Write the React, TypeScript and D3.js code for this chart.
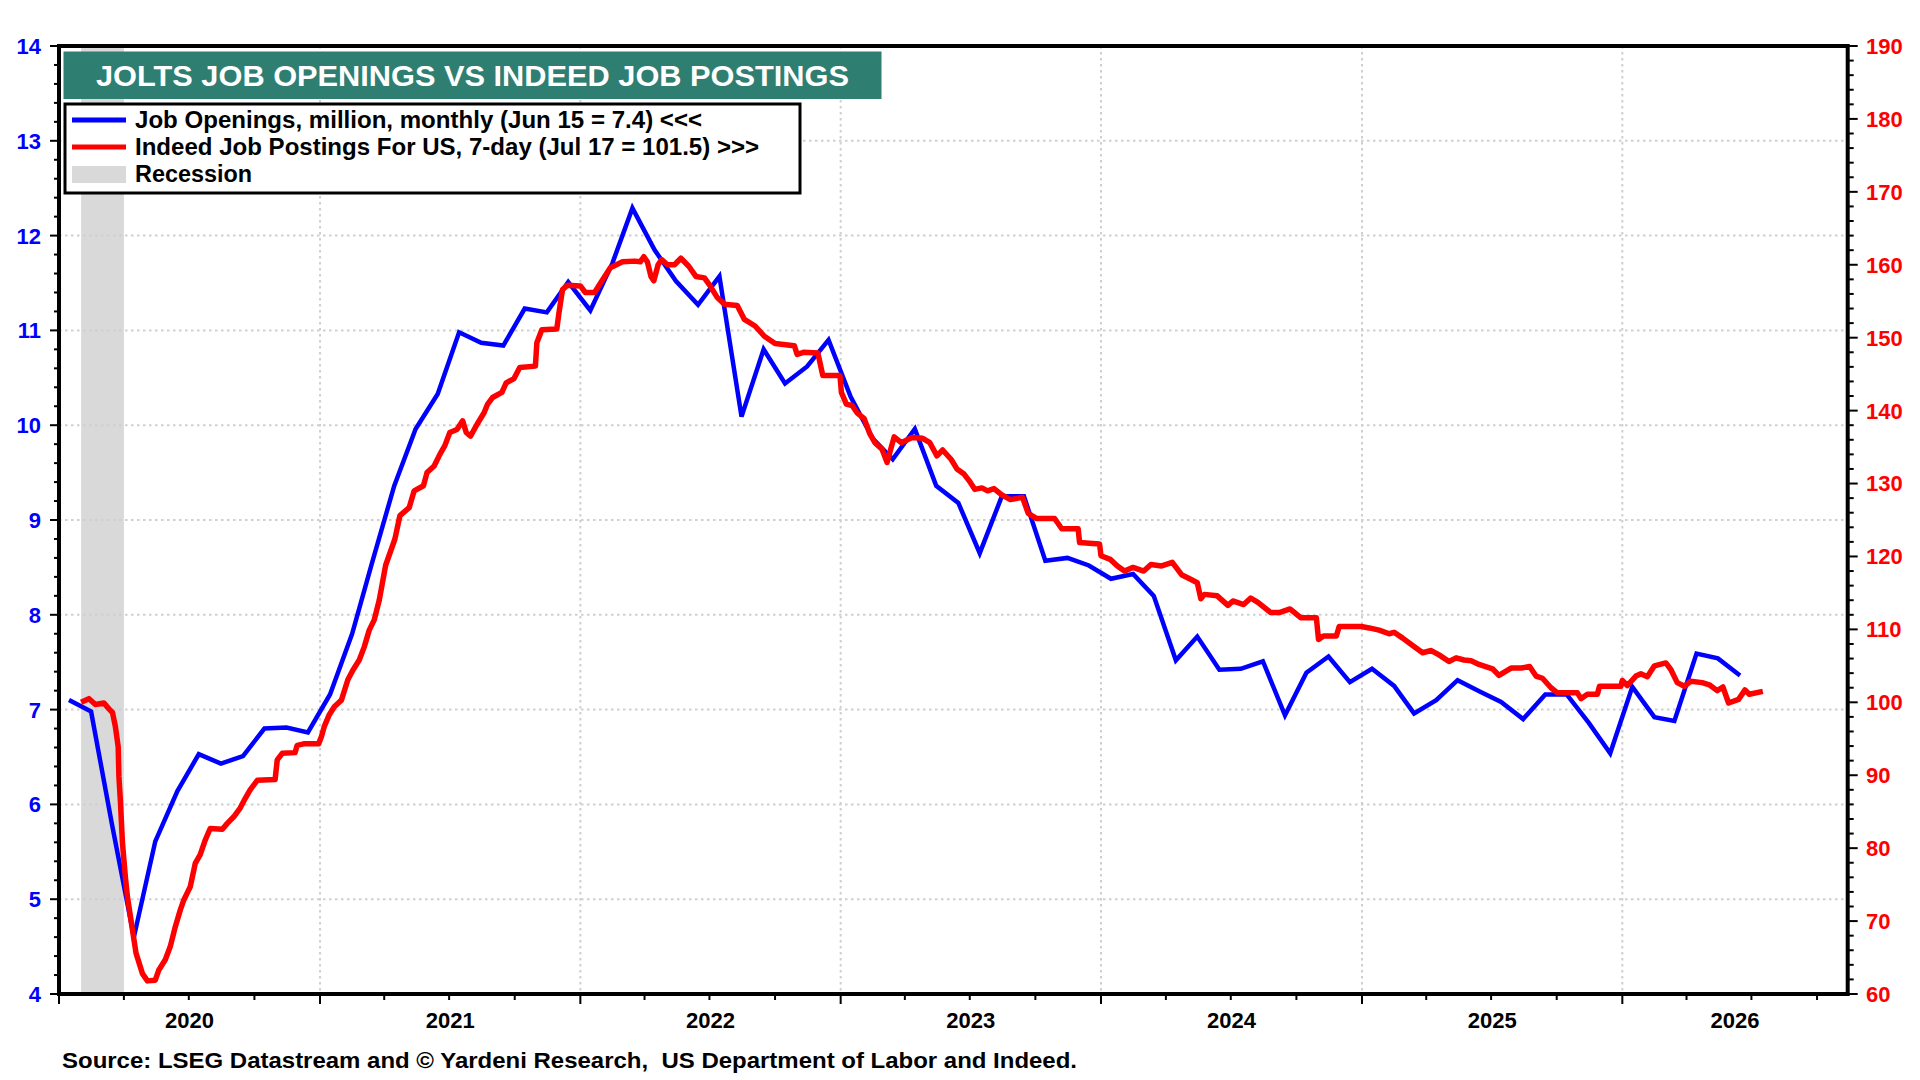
import React from 'react';
import * as d3 from 'd3';

// ---------------- DATA ----------------
// JOLTS job openings (million), monthly, dated the 15th, starting Jan 2020
const joltsFirstMonth = '2020-01-15';
const joltsValues: number[] = [
  7.10, 6.98, 5.80, 4.60, 5.61, 6.14, 6.53, 6.43, 6.51, 6.80, 6.81, 6.76,
  7.16, 7.80, 8.55, 9.36, 9.96, 10.33, 10.98, 10.87, 10.84, 11.23, 11.19, 11.51,
  11.21, 11.71, 12.29, 11.85, 11.52, 11.27, 11.57, 10.09, 10.80, 10.44, 10.62, 10.90,
  10.30, 9.86, 9.64, 9.96, 9.36, 9.18, 8.65, 9.25, 9.25, 8.57, 8.60, 8.52,
  8.38, 8.43, 8.20, 7.52, 7.77, 7.42, 7.43, 7.51, 6.94, 7.39, 7.56, 7.29,
  7.43, 7.25, 6.96, 7.10, 7.31, 7.19, 7.08, 6.90, 7.16, 7.16, 6.86, 6.54,
  7.24, 6.92, 6.88, 7.59, 7.54, 7.36,
];

// Indeed job postings index (Feb 1 2020 = 100), 7-day
const indeedPostings: [string, number][] = [
  ['2020-02-01', 100.0], ['2020-02-12', 100.5], ['2020-02-21', 99.7], ['2020-03-04', 99.9],
  ['2020-03-11', 99.1], ['2020-03-16', 98.6], ['2020-03-20', 96.7], ['2020-03-24', 93.9],
  ['2020-03-25', 89.8], ['2020-03-27', 86.6], ['2020-03-30', 80.7], ['2020-04-03', 76.1],
  ['2020-04-06', 73.3], ['2020-04-13', 68.8], ['2020-04-18', 65.6], ['2020-04-27', 62.8],
  ['2020-05-04', 61.8], ['2020-05-15', 61.9], ['2020-05-20', 63.3], ['2020-05-29', 64.7],
  ['2020-06-05', 66.5], ['2020-06-12', 69.2], ['2020-06-19', 71.5], ['2020-06-24', 72.9],
  ['2020-07-03', 74.7], ['2020-07-10', 77.9], ['2020-07-17', 79.1], ['2020-07-24', 81.1],
  ['2020-07-31', 82.7], ['2020-08-17', 82.6], ['2020-08-24', 83.4], ['2020-09-02', 84.3],
  ['2020-09-11', 85.5], ['2020-09-18', 86.8], ['2020-09-25', 88.0], ['2020-10-05', 89.3],
  ['2020-10-30', 89.4], ['2020-11-02', 92.1], ['2020-11-09', 93.0], ['2020-11-27', 93.1],
  ['2020-11-30', 94.1], ['2020-12-09', 94.3], ['2020-12-30', 94.3], ['2021-01-03', 95.3],
  ['2021-01-07', 96.7], ['2021-01-14', 98.3], ['2021-01-21', 99.4], ['2021-01-31', 100.3],
  ['2021-02-09', 103.1], ['2021-02-16', 104.4], ['2021-02-25', 105.8], ['2021-03-04', 107.6],
  ['2021-03-11', 109.9], ['2021-03-18', 111.3], ['2021-03-25', 114.0], ['2021-04-03', 118.8],
  ['2021-04-16', 122.4], ['2021-04-23', 125.6], ['2021-05-06', 126.7], ['2021-05-13', 129.0],
  ['2021-05-26', 129.7], ['2021-05-31', 131.5], ['2021-06-10', 132.4], ['2021-06-18', 134.0],
  ['2021-06-25', 135.2], ['2021-07-02', 137.0], ['2021-07-12', 137.4], ['2021-07-20', 138.6],
  ['2021-07-25', 137.0], ['2021-07-31', 136.5], ['2021-08-09', 138.1], ['2021-08-19', 139.7],
  ['2021-08-24', 140.9], ['2021-08-31', 141.8], ['2021-09-13', 142.5], ['2021-09-19', 143.8],
  ['2021-09-30', 144.4], ['2021-10-08', 145.9], ['2021-10-30', 146.1], ['2021-11-01', 149.3],
  ['2021-11-08', 151.1], ['2021-11-29', 151.2], ['2021-12-02', 153.4], ['2021-12-07', 156.6],
  ['2021-12-14', 157.2], ['2022-01-01', 157.1], ['2022-01-08', 156.2], ['2022-01-21', 156.2],
  ['2022-01-28', 157.3], ['2022-02-12', 159.6], ['2022-03-01', 160.4], ['2022-03-18', 160.5],
  ['2022-03-26', 160.4], ['2022-03-31', 161.1], ['2022-04-05', 160.4], ['2022-04-10', 158.4],
  ['2022-04-14', 157.8], ['2022-04-20', 160.0], ['2022-04-25', 160.7], ['2022-05-03', 160.0],
  ['2022-05-13', 160.0], ['2022-05-22', 160.9], ['2022-06-02', 159.8], ['2022-06-12', 158.4],
  ['2022-06-24', 158.2], ['2022-07-02', 157.1], ['2022-07-12', 155.5], ['2022-07-22', 154.6],
  ['2022-08-09', 154.4], ['2022-08-19', 152.5], ['2022-09-03', 151.6], ['2022-09-16', 150.2],
  ['2022-10-01', 149.2], ['2022-10-28', 148.9], ['2022-11-01', 147.7], ['2022-11-10', 148.0],
  ['2022-11-30', 147.9], ['2022-12-07', 144.8], ['2022-12-31', 144.8], ['2023-01-02', 142.5],
  ['2023-01-09', 140.9], ['2023-01-17', 140.7], ['2023-01-24', 139.7], ['2023-02-03', 138.9],
  ['2023-02-11', 136.8], ['2023-02-18', 135.6], ['2023-02-28', 134.7], ['2023-03-07', 132.9],
  ['2023-03-17', 136.4], ['2023-03-27', 135.6], ['2023-04-11', 136.3], ['2023-04-26', 136.2],
  ['2023-05-06', 135.6], ['2023-05-16', 133.8], ['2023-05-24', 134.6], ['2023-06-05', 133.3],
  ['2023-06-13', 132.0], ['2023-06-23', 131.3], ['2023-06-30', 130.4], ['2023-07-08', 129.2],
  ['2023-07-18', 129.4], ['2023-07-26', 129.0], ['2023-08-04', 129.3], ['2023-08-14', 128.5],
  ['2023-08-27', 127.8], ['2023-09-13', 128.1], ['2023-09-21', 125.9], ['2023-10-03', 125.2],
  ['2023-10-28', 125.2], ['2023-11-07', 123.8], ['2023-11-30', 123.8], ['2023-12-02', 121.9],
  ['2023-12-30', 121.7], ['2024-01-01', 120.1], ['2024-01-14', 119.6], ['2024-01-24', 118.7],
  ['2024-02-03', 118.0], ['2024-02-15', 118.5], ['2024-03-01', 118.0], ['2024-03-11', 118.9],
  ['2024-03-26', 118.7], ['2024-04-10', 119.2], ['2024-04-23', 117.5], ['2024-05-05', 116.9],
  ['2024-05-15', 116.4], ['2024-05-20', 114.2], ['2024-05-25', 114.8], ['2024-06-12', 114.6],
  ['2024-06-27', 113.3], ['2024-07-04', 113.9], ['2024-07-19', 113.4], ['2024-07-29', 114.3],
  ['2024-08-08', 113.7], ['2024-08-26', 112.3], ['2024-09-07', 112.3], ['2024-09-22', 112.8],
  ['2024-10-07', 111.6], ['2024-10-29', 111.6], ['2024-11-01', 108.6], ['2024-11-08', 109.1],
  ['2024-11-26', 109.1], ['2024-11-30', 110.4], ['2024-12-31', 110.4], ['2025-01-11', 110.2],
  ['2025-01-25', 109.9], ['2025-02-08', 109.4], ['2025-02-15', 109.6], ['2025-02-27', 108.8],
  ['2025-03-13', 107.8], ['2025-03-27', 106.8], ['2025-04-08', 107.1], ['2025-04-19', 106.5],
  ['2025-05-03', 105.6], ['2025-05-13', 106.1], ['2025-05-24', 105.8], ['2025-06-03', 105.7],
  ['2025-06-14', 105.2], ['2025-07-03', 104.6], ['2025-07-12', 103.7], ['2025-07-29', 104.7],
  ['2025-08-12', 104.7], ['2025-08-24', 104.9], ['2025-09-02', 103.6], ['2025-09-11', 103.3],
  ['2025-09-23', 102.0], ['2025-10-02', 101.3], ['2025-10-30', 101.3], ['2025-11-04', 100.5],
  ['2025-11-13', 101.1], ['2025-11-27', 101.1], ['2025-11-30', 102.2], ['2025-12-30', 102.2],
  ['2026-01-01', 103.0], ['2026-01-08', 102.3], ['2026-01-20', 103.6], ['2026-01-27', 103.9],
  ['2026-02-05', 103.5], ['2026-02-15', 105.0], ['2026-03-03', 105.4], ['2026-03-10', 104.5],
  ['2026-03-19', 102.7], ['2026-03-29', 102.2], ['2026-04-07', 102.9], ['2026-04-23', 102.7],
  ['2026-05-03', 102.4], ['2026-05-14', 101.6], ['2026-05-22', 102.1], ['2026-05-30', 99.9],
  ['2026-06-13', 100.4], ['2026-06-22', 101.7], ['2026-06-28', 101.1], ['2026-07-17', 101.5],
];

const recession: [string, string] = ['2020-02-01', '2020-04-01'];
const yearLabels: number[] = [2020, 2021, 2022, 2023, 2024, 2025, 2026];
const titleText = 'JOLTS JOB OPENINGS VS INDEED JOB POSTINGS';
const legendLabels = [
  'Job Openings, million, monthly (Jun 15 = 7.4) <<<',
  'Indeed Job Postings For US, 7-day (Jul 17 = 101.5) >>>',
  'Recession',
];
const legendWidths = [567, 624, 117];
const sourceText = 'Source: LSEG Datastream and \u00A9 Yardeni Research,  US Department of Labor and Indeed.';

// ---------------- LAYOUT ----------------
const W = 1920;
const H = 1080;
const L = 59;
const R = 1847.7;
const T = 46;
const B = 994;
const FONT = '"Liberation Sans", Arial, Helvetica, sans-serif';
const BLUE = '#0000FF';
const RED = '#FF0000';
const GRID = '#CFCFCF';

const parse = d3.timeParse('%Y-%m-%d');

export default function App() {
  const x = d3.scaleTime().domain([new Date(2020, 0, 1), new Date(2026, 10, 13)]).range([L, R]);
  const yL = d3.scaleLinear().domain([4, 14]).range([B, T]);
  const yR = d3.scaleLinear().domain([60, 190]).range([B, T]);

  const start = parse(joltsFirstMonth) as Date;
  const jolts = joltsValues.map((v, i) => ({ d: d3.timeMonth.offset(start, i), v }));
  const indeed = indeedPostings.map(([s, v]) => ({ d: parse(s) as Date, v }));

  const blueLine = d3.line<{ d: Date; v: number }>().x((p) => x(p.d)).y((p) => yL(p.v))(jolts) || '';
  const redLine = d3.line<{ d: Date; v: number }>().x((p) => x(p.d)).y((p) => yR(p.v))(indeed) || '';

  const leftTicks = yL.ticks(50);
  const rightTicks = yR.ticks(65);
  const quarterTicks = d3.timeMonth.every(3)!.range(new Date(2020, 0, 1), new Date(2026, 10, 14));
  const yearStarts = d3.timeYear.range(new Date(2021, 0, 1), new Date(2026, 1, 1));
  const hGrid = d3.range(5, 14, 1);

  const recX0 = x(parse(recession[0]) as Date);
  const recX1 = x(parse(recession[1]) as Date);

  return (
    <svg width={W} height={H} style={{ position: 'absolute', left: 0, top: 0, background: '#fff' }} fontFamily={FONT}>
      <rect x={0} y={0} width={W} height={H} fill="#fff" />
      {/* recession */}
      <rect x={recX0} y={T} width={recX1 - recX0} height={B - T} fill="#D9D9D9" />
      {/* grid */}
      {hGrid.map((v) => (
        <line key={'h' + v} x1={L} x2={R} y1={yL(v)} y2={yL(v)} stroke={GRID} strokeWidth={2} strokeDasharray="2.5,3.5" />
      ))}
      {yearStarts.map((d, i) => (
        <line key={'v' + i} x1={x(d)} x2={x(d)} y1={T} y2={B} stroke={GRID} strokeWidth={2} strokeDasharray="2.5,3.5" />
      ))}
      {/* series */}
      <path d={blueLine} fill="none" stroke={BLUE} strokeWidth={4.5} strokeLinejoin="miter" strokeMiterlimit={3} />
      <path d={redLine} fill="none" stroke={RED} strokeWidth={5.5} strokeLinejoin="round" />
      {/* frame */}
      <rect x={L} y={T} width={R - L} height={B - T} fill="none" stroke="#000" strokeWidth={4} />
      {/* left axis */}
      {leftTicks.map((v, i) => {
        const major = Math.abs(v - Math.round(v)) < 1e-6;
        return (
          <line key={'lt' + i} x1={L} x2={L - (major ? 9 : 5)} y1={yL(v)} y2={yL(v)} stroke="#000" strokeWidth={2} />
        );
      })}
      {d3.range(4, 15, 1).map((v) => (
        <text key={'ll' + v} x={41} y={yL(v)} dy="0.36em" textAnchor="end" fill={BLUE} fontSize={22} fontWeight="bold">
          {v}
        </text>
      ))}
      {/* right axis */}
      {rightTicks.map((v, i) => {
        const major = v % 10 === 0;
        return (
          <line key={'rt' + i} x1={R} x2={R + (major ? 10 : 6)} y1={yR(v)} y2={yR(v)} stroke="#000" strokeWidth={2} />
        );
      })}
      {d3.range(60, 191, 10).map((v) => (
        <text key={'rl' + v} x={1866} y={yR(v)} dy="0.36em" textAnchor="start" fill={RED} fontSize={22} fontWeight="bold">
          {v}
        </text>
      ))}
      {/* bottom axis */}
      {quarterTicks.map((d, i) => {
        const major = d.getMonth() === 0;
        return (
          <line key={'bt' + i} x1={x(d)} x2={x(d)} y1={B} y2={B + (major ? 10 : 6)} stroke="#000" strokeWidth={2} />
        );
      })}
      {yearLabels.map((yr) => {
        const a = x(new Date(yr, 0, 1));
        const b = Math.min(x(new Date(yr + 1, 0, 1)), R);
        return (
          <text key={'yl' + yr} x={(a + b) / 2} y={1020} dy="0.36em" textAnchor="middle" fill="#000" fontSize={22} fontWeight="bold">
            {yr}
          </text>
        );
      })}
      {/* title */}
      <rect x={63.5} y={51.5} width={818} height={47.5} fill="#2E7E72" />
      <text x={96} y={75.5} dy="0.36em" fill="#fff" fontSize={30} fontWeight="bold" textLength={753} lengthAdjust="spacingAndGlyphs">
        {titleText}
      </text>
      {/* legend */}
      <rect x={65} y={104} width={735} height={89} fill="#fff" stroke="#000" strokeWidth={3} />
      <line x1={72} x2={126} y1={120} y2={120} stroke={BLUE} strokeWidth={5} />
      <line x1={72} x2={126} y1={147} y2={147} stroke={RED} strokeWidth={5} />
      <rect x={72} y={166} width={54} height={17} fill="#D9D9D9" />
      {legendLabels.map((s, i) => (
        <text key={'lg' + i} x={135} y={120 + i * 27} dy="0.36em" fill="#000" fontSize={23} fontWeight="bold" textLength={legendWidths[i]} lengthAdjust="spacingAndGlyphs">
          {s}
        </text>
      ))}
      {/* source */}
      <text x={62} y={1060} dy="0.36em" fill="#000" fontSize={22} fontWeight="bold" style={{ whiteSpace: 'pre' }} textLength={1015} lengthAdjust="spacingAndGlyphs">
        {sourceText}
      </text>
    </svg>
  );
}
